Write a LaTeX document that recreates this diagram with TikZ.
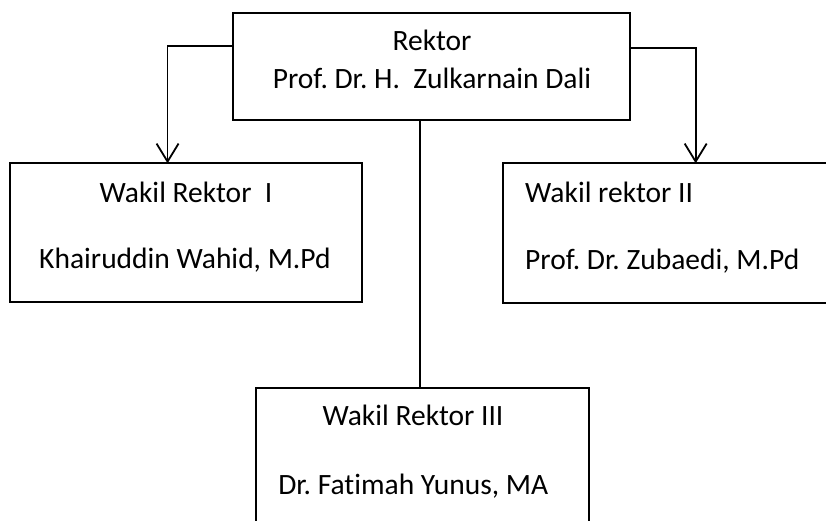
\documentclass[tikz,border=0pt]{standalone}
\usepackage{fontspec}
\setmainfont{Carlito}[Ligatures=NoCommon]
\usetikzlibrary{arrows.meta}
\frenchspacing
\tikzset{
  box/.style={draw=black, line width=1.8pt, rectangle, inner sep=0pt, outer sep=0pt, anchor=north west},
  lbl/.style={inner sep=0pt, anchor=base, font=\fontsize{29.5}{34}\selectfont},
  lblw/.style={lbl, anchor=base west},
  conn/.style={draw=black, line width=1.8pt},
  arr/.style={conn, -{Straight Barb[length=18pt, width=22pt, line width=1.8pt]}}
}
\begin{document}
\begin{tikzpicture}[x=1pt, y=-1pt]
\useasboundingbox (0,0) rectangle (826,520);
% boxes
\node[box, minimum width=396.7pt, minimum height=106.7pt] (rektor) at (233.3,13.3) {};
\node[box, minimum width=351.7pt, minimum height=138.7pt] (wr1) at (10,163.3) {};
\node[box, minimum width=326.7pt, minimum height=139.7pt] (wr2) at (503.3,163.3) {};
\node[box, minimum width=333.3pt, minimum height=140pt] (wr3) at (255.7,388) {};
% texts
\node[lbl] (t1) at (432,50.7) {Rektor};
\node[lbl] (t2) at (432,88.3) {Prof. Dr. H.\ \ Zulkarnain Dali};
\node[lbl] (t3) at (186,202.3) {Wakil Rektor\ \ I};
\node[lbl] (t4) at (185,268.3) {Khairuddin Wahid, M.Pd};
\node[lblw] (t5) at (525,202.3) {Wakil rektor II};
\node[lblw] (t6) at (525,269) {Prof. Dr. Zubaedi, M.Pd};
\node[lbl] (t7) at (413,425.7) {Wakil Rektor III};
\node[lbl] (t8) at (413.3,494) {Dr. Fatimah Yunus, MA};
% connectors
\draw[arr] ([yshift=-32.7pt]rektor.north west) -| ([xshift=-18.3pt]wr1.north);
\draw[arr] ([yshift=-34.4pt]rektor.north east) -| ([xshift=29pt]wr2.north);
\draw[conn] ([xshift=-11.7pt]rektor.south) -- ([xshift=-11.7pt]rektor.south |- wr3.north);
\end{tikzpicture}
\end{document}
